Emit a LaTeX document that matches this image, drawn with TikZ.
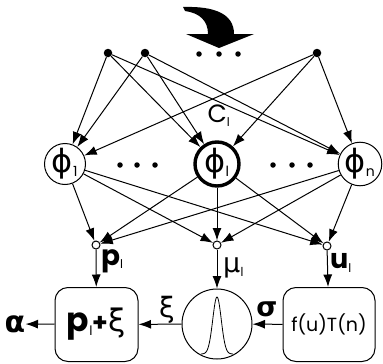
\documentclass[tikz,border=0pt]{standalone}
\usepackage{fontspec}
\setmainfont{Poppins}
\newfontfamily\gr{DejaVu Sans}
\usetikzlibrary{arrows.meta}
\tikzset{
  tip/.style={-{Latex[length=12.5pt,width=9pt]}},
  wire/.style={tip, line width=1pt},
  src/.style={circle, fill=black, inner sep=0pt, minimum size=8.5pt},
  unit/.style={circle, draw, line width=1pt, inner sep=0pt, minimum size=41pt, font=\fontsize{32}{34}\selectfont},
  junc/.style={circle, draw, fill=white, line width=1pt, inner sep=0pt, minimum size=8pt},
  blockbox/.style={draw, rounded corners=13pt, line width=1pt, minimum width=83pt, minimum height=74pt, inner sep=0pt},
  lbl/.style={inner sep=0pt, font=\fontsize{22}{24}\selectfont},
  smalldot/.style={circle, fill=black, inner sep=0pt, minimum size=5.5pt}
}
\begin{document}
\begin{tikzpicture}[x=1pt,y=-1pt]
\useasboundingbox (0,0) rectangle (383,364);

% curved input arrow
\fill (183,7) .. controls (215,6) and (234,14) .. (234,34) -- (254,34) -- (219,48) -- (186,34)
  -- (208,34) .. controls (208,21) and (200,13) .. (185,11) -- cycle;
\foreach \x/\n in {199/a,219/b,238/c} \node[smalldot] (top\n) at (\x,54) {};

% sources
\node[src] (d1) at (108,53) {};
\node[src] (d2) at (145,53) {};
\node[src] (d3) at (317,53) {};

% units
\node[unit] (p1) at (65,164) {{\gr ϕ}\textsubscript{\fontsize{14}{14}\selectfont 1}};
\node[unit, line width=3.4pt, minimum size=44pt] (pl) at (217,164) {{\gr ϕ}\textsubscript{\fontsize{14}{14}\selectfont l}};
\node[unit] (pn) at (360,164) {{\gr ϕ}\textsubscript{\fontsize{14}{14}\selectfont n}};
\node[lbl, font=\fontsize{25}{28}\selectfont] (cl) at (219,116) {C\textsubscript{\fontsize{12}{12}\selectfont l}};

\foreach \x/\n in {120/a,137/b,155/c,273/d,292/e,310/f} \node[smalldot] (mid\n) at (\x,165) {};

% junctions
\node[junc] (j1) at (96,245) {};
\node[junc] (j2) at (217,245) {};
\node[junc] (j3) at (327,246) {};

% source to unit connections
\foreach \s in {d1,d2,d3} \foreach \u in {p1,pl,pn} \draw[wire] (\s) -- (\u);
% unit to junction connections
\foreach \u in {p1,pl,pn} \foreach \j in {j1,j2,j3} \draw[wire] (\u) -- (\j);

% lower blocks
\node[blockbox] (b1) at (96.5,324.5) {\fontsize{33}{34}\selectfont\bfseries p\textsubscript{\mdseries\fontsize{13}{13}\selectfont l}\kern-1pt{\fontsize{25}{25}\selectfont+}\kern1pt{\gr\mdseries\fontsize{31}{32}\selectfont ξ}};
\node[circle, draw, line width=1pt, minimum size=70pt, inner sep=0pt] (g) at (217,324) {};
\node[blockbox, minimum width=92pt] (b3) at (329,324.5) {\fontsize{19}{20}\selectfont f(u)T(n)};
\draw[line width=0.8pt] plot[domain=-16:16, samples=80] ({217+\x},{354-57*exp(-(\x/6)^2)});

\node[lbl, font=\fontsize{30}{32}\selectfont] (alpha) at (15,324) {\gr\bfseries α};

\draw[wire] (j1) -- (b1);
\draw[wire] (j2) -- (g);
\draw[wire] (j3) -- (b3);
\draw[wire] (b3) -- (g);
\draw[wire] (g) -- (b1);
\draw[wire] (b1) -- (alpha);

% signal labels
\node[lbl, font=\fontsize{28}{30}\selectfont\bfseries, anchor=west] (plbl) at (101,261) {p\textsubscript{\mdseries\fontsize{12}{12}\selectfont l}};
\node[lbl, font=\fontsize{27}{30}\selectfont, anchor=west] (mlbl) at (223,268) {\gr μ\textsubscript{\fontsize{12}{12}\selectfont l}};
\node[lbl, font=\fontsize{27}{30}\selectfont\bfseries, anchor=west] (ulbl) at (330,263) {u\textsubscript{\mdseries\fontsize{12}{12}\selectfont l}};
\node[lbl, font=\fontsize{28}{30}\selectfont] (xlbl) at (167,310) {\gr ξ};
\node[lbl, font=\fontsize{27}{30}\selectfont] (slbl) at (267,309) {\gr\bfseries σ};
\end{tikzpicture}
\end{document}
